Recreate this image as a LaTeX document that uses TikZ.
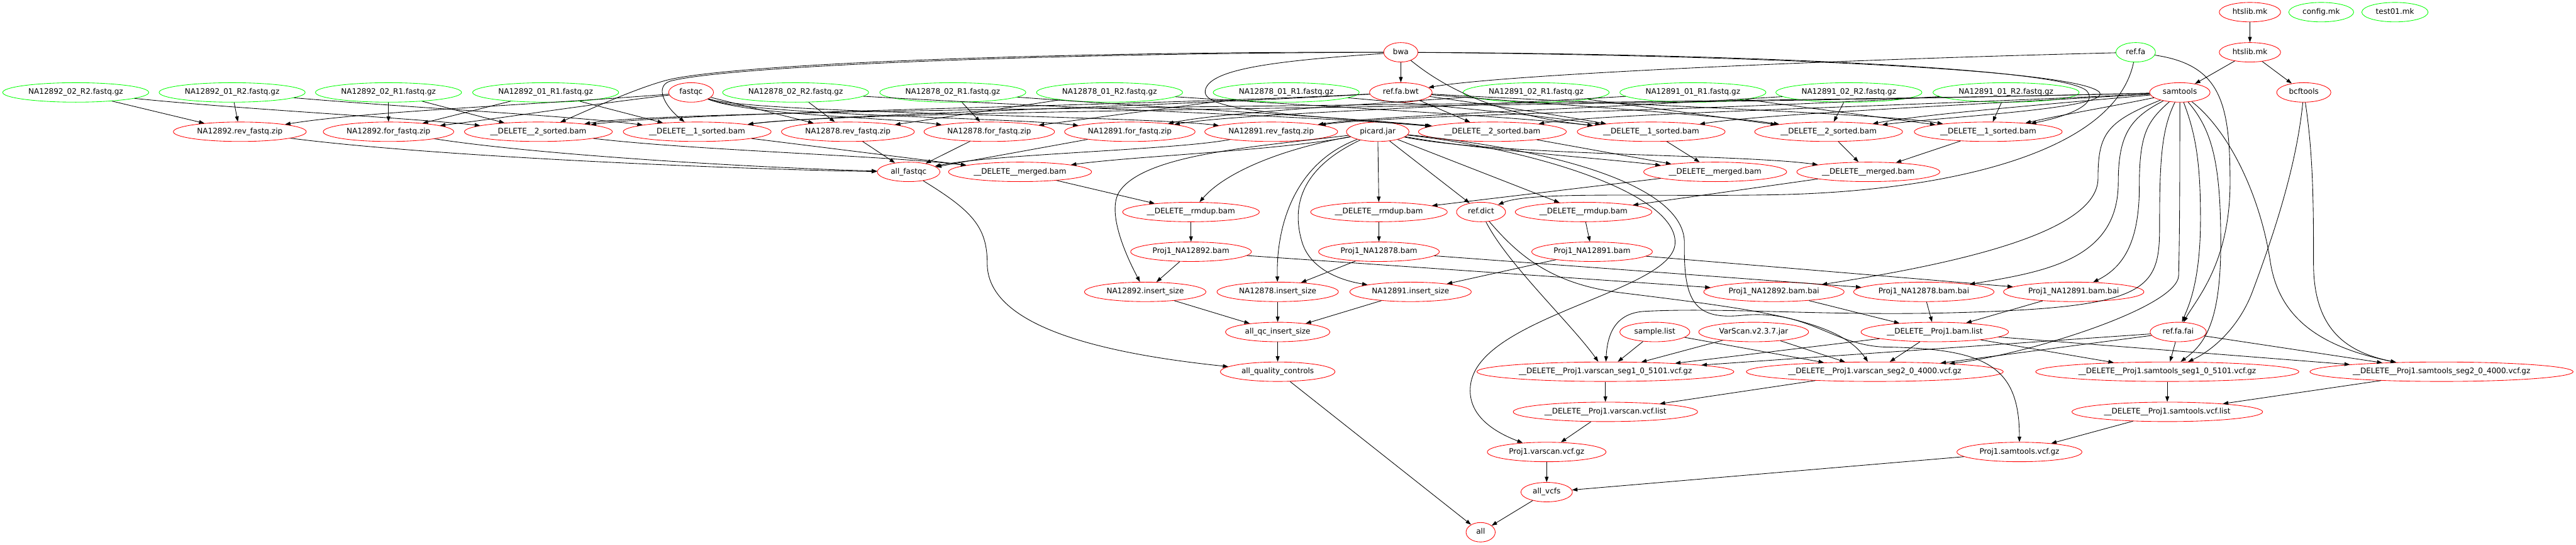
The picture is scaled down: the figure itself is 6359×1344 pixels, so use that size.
\documentclass[tikz,border=0pt]{standalone}
\usepackage{fontspec}
\setmainfont{DejaVu Sans}
\usetikzlibrary{shapes.geometric,arrows.meta}
\begin{document}
\begin{tikzpicture}[x=1pt,y=-1pt,
  nd/.style={ellipse, draw, line width=1.33pt, inner xsep=10.56pt, inner ysep=5.28pt,
    minimum width=72pt, minimum height=48pt, text height=13.6pt, text depth=4.4pt,
    font=\fontsize{18.67pt}{22pt}\selectfont},
  nr/.style={nd, draw=red},
  ng/.style={nd, draw=green},
  e/.style={draw=black, line width=1.33pt, -{Triangle[length=13.3pt,width=9.3pt]}}]
\useasboundingbox (0,0) rectangle (6359,1344);
% row 0
\node[nr] (htA) at (5554,30) {htslib.mk};
\node[ng] (config) at (5730,30) {config.mk};
\node[ng] (test) at (5912,30) {test01.mk};
% row 1
\node[nr] (bwa) at (3458,129) {bwa};
\node[ng] (reffa) at (5272,129) {ref.fa};
\node[nr] (htB) at (5554,129) {htslib.mk};
% row 2
\node[ng] (q92a) at (187,228) {NA12892\_02\_R2.fastq.gz};
\node[ng] (q92b) at (573,228) {NA12892\_01\_R2.fastq.gz};
\node[ng] (q92c) at (959,228) {NA12892\_02\_R1.fastq.gz};
\node[ng] (q92d) at (1347,228) {NA12892\_01\_R1.fastq.gz};
\node[nr] (fastqc) at (1706,228) {fastqc};
\node[ng] (q78a) at (1964,228) {NA12878\_02\_R2.fastq.gz};
\node[ng] (q78b) at (2352,228) {NA12878\_02\_R1.fastq.gz};
\node[ng] (q78c) at (2739,228) {NA12878\_01\_R2.fastq.gz};
\node[ng] (q78d) at (3175,228) {NA12878\_01\_R1.fastq.gz};
\node[nr] (bwt) at (3458,228) {ref.fa.bwt};
\node[ng] (q91a) at (3792,228) {NA12891\_02\_R1.fastq.gz};
\node[ng] (q91b) at (4179,228) {NA12891\_01\_R1.fastq.gz};
\node[ng] (q91c) at (4564,228) {NA12891\_02\_R2.fastq.gz};
\node[ng] (q91d) at (4952,228) {NA12891\_01\_R2.fastq.gz};
\node[nr] (samtools) at (5381,228) {samtools};
\node[nr] (bcftools) at (5687,228) {bcftools};
% row 3
\node[nr] (z92r) at (592,325) {NA12892.rev\_fastq.zip};
\node[nr] (z92f) at (959,325) {NA12892.for\_fastq.zip};
\node[nr] (s2a) at (1329,325) {\_\_DELETE\_\_2\_sorted.bam};
\node[nr] (s1a) at (1721,325) {\_\_DELETE\_\_1\_sorted.bam};
\node[nr] (z78r) at (2093,325) {NA12878.rev\_fastq.zip};
\node[nr] (z78f) at (2442,325) {NA12878.for\_fastq.zip};
\node[nr] (z91f) at (2789,325) {NA12891.for\_fastq.zip};
\node[nr] (z91r) at (3138,325) {NA12891.rev\_fastq.zip};
\node[nr] (picard) at (3401,325) {picard.jar};
\node[nr] (s2b) at (3684,325) {\_\_DELETE\_\_2\_sorted.bam};
\node[nr] (s1b) at (4076,325) {\_\_DELETE\_\_1\_sorted.bam};
\node[nr] (s2c) at (4514,325) {\_\_DELETE\_\_2\_sorted.bam};
\node[nr] (s1c) at (4908,325) {\_\_DELETE\_\_1\_sorted.bam};
% row 4
\node[nr] (allfq) at (2243,424) {all\_fastqc};
\node[nr] (ma) at (2518,424) {\_\_DELETE\_\_merged.bam};
\node[nr] (mb) at (4234,424) {\_\_DELETE\_\_merged.bam};
\node[nr] (mc) at (4612,424) {\_\_DELETE\_\_merged.bam};
% row 5
\node[nr] (rda) at (2940,523) {\_\_DELETE\_\_rmdup.bam};
\node[nr] (rdb) at (3404,523) {\_\_DELETE\_\_rmdup.bam};
\node[nr] (dict) at (3656,523) {ref.dict};
\node[nr] (rdc) at (3909,523) {\_\_DELETE\_\_rmdup.bam};
% row 6
\node[nr] (b92) at (2940,621) {Proj1\_NA12892.bam};
\node[nr] (b78) at (3404,621) {Proj1\_NA12878.bam};
\node[nr] (b91) at (3930,621) {Proj1\_NA12891.bam};
% row 7
\node[nr] (is92) at (2827,720) {NA12892.insert\_size};
\node[nr] (is78) at (3154,720) {NA12878.insert\_size};
\node[nr] (is91) at (3482,720) {NA12891.insert\_size};
\node[nr] (bai92) at (4379,720) {Proj1\_NA12892.bam.bai};
\node[nr] (bai78) at (4749,720) {Proj1\_NA12878.bam.bai};
\node[nr] (bai91) at (5119,720) {Proj1\_NA12891.bam.bai};
% row 8
\node[nr] (allqcis) at (3154,819) {all\_qc\_insert\_size};
\node[nr] (slist) at (4085,819) {sample.list};
\node[nr] (vjar) at (4329,819) {VarScan.v2.3.7.jar};
\node[nr] (blist) at (4776,819) {\_\_DELETE\_\_Proj1.bam.list};
\node[nr] (fai) at (5377,819) {ref.fa.fai};
% row 9
\node[nr] (allqc) at (3154,917) {all\_quality\_controls};
\node[nr] (vs1) at (3963,917) {\_\_DELETE\_\_Proj1.varscan\_seg1\_0\_5101.vcf.gz};
\node[nr] (vs2) at (4628,917) {\_\_DELETE\_\_Proj1.varscan\_seg2\_0\_4000.vcf.gz};
\node[nr] (st1) at (5350,917) {\_\_DELETE\_\_Proj1.samtools\_seg1\_0\_5101.vcf.gz};
\node[nr] (st2) at (6027,917) {\_\_DELETE\_\_Proj1.samtools\_seg2\_0\_4000.vcf.gz};
% rows 10-13
\node[nr] (vsl) at (3963,1016) {\_\_DELETE\_\_Proj1.varscan.vcf.list};
\node[nr] (stl) at (5350,1016) {\_\_DELETE\_\_Proj1.samtools.vcf.list};
\node[nr] (vsgz) at (3818,1115) {Proj1.varscan.vcf.gz};
\node[nr] (stgz) at (4985,1115) {Proj1.samtools.vcf.gz};
\node[nr] (allvcfs) at (3818,1214) {all\_vcfs};
\node[nr] (all) at (3655,1313) {all};

% fastq -> zip / sorted
\draw[e] (q92a) -- (z92r);
\draw[e] (q92a) .. controls (600,270) and (1000,290) .. (s2a);
\draw[e] (q92b) -- (z92r);
\draw[e] (q92b) .. controls (1000,265) and (1400,285) .. (s1a);
\draw[e] (q92c) -- (z92f);
\draw[e] (q92c) -- (s2a);
\draw[e] (q92d) -- (z92f);
\draw[e] (q92d) -- (s1a);
\draw[e] (q78a) -- (z78r);
\draw[e] (q78a) .. controls (2700,270) and (3300,290) .. (s2b);
\draw[e] (q78b) -- (z78f);
\draw[e] (q78b) .. controls (2900,268) and (3300,288) .. (s2b);
\draw[e] (q78c) -- (z78r);
\draw[e] (q78c) .. controls (3300,265) and (3700,285) .. (s1b);
\draw[e] (q78d) -- (z78f);
\draw[e] (q78d) .. controls (3600,265) and (3800,285) .. (s1b);
\draw[e] (q91a) .. controls (3300,262) and (3000,280) .. (z91f);
\draw[e] (q91a) -- (s2c);
\draw[e] (q91b) .. controls (3500,268) and (3050,282) .. (z91f);
\draw[e] (q91b) -- (s1c);
\draw[e] (q91c) -- (s2c);
\draw[e] (q91c) .. controls (3900,270) and (3400,285) .. (z91r);
\draw[e] (q91d) -- (s1c);
\draw[e] (q91d) .. controls (4200,275) and (3450,282) .. (z91r);
% fastqc
\draw[e] (fastqc) .. controls (1300,260) and (900,275) .. (z92r);
\draw[e] (fastqc) .. controls (1400,265) and (1250,290) .. (z92f);
\draw[e] (fastqc) -- (z78r);
\draw[e] (fastqc) .. controls (1850,285) and (2200,290) .. (z78f);
\draw[e] (fastqc) .. controls (1850,285) and (2500,290) .. (z91f);
\draw[e] (fastqc) .. controls (1850,280) and (2800,285) .. (z91r);
% bwa
\draw[e] (bwa) -- (bwt);
\draw[e] (bwa) .. controls (2600,127) and (1800,158) .. (1645,198) .. controls (1570,218) and (1460,268) .. (s2a);
\draw[e] (bwa) .. controls (2600,131) and (1800,162) .. (1655,200) .. controls (1615,212) and (1640,262) .. (s1a);
\draw[e] (bwa) .. controls (3150,150) and (2980,170) .. (2975,225) .. controls (2970,275) and (3200,282) .. (s2b);
\draw[e] (bwa) .. controls (3570,220) and (3700,285) .. (s1b);
\draw[e] (bwa) .. controls (4300,133) and (5100,168) .. (5152,225) .. controls (5180,258) and (5100,288) .. (s1c);
\draw[e] (bwa) .. controls (4300,136) and (5130,170) .. (5183,228) .. controls (5210,268) and (4800,288) .. (s2c);
% ref.fa.bwt
\draw[e] (bwt) .. controls (2800,262) and (1700,275) .. (s2a);
\draw[e] (bwt) .. controls (2800,265) and (2000,285) .. (s1a);
\draw[e] (bwt) -- (s2b);
\draw[e] (bwt) .. controls (3700,262) and (3850,285) .. (s1b);
\draw[e] (bwt) .. controls (3900,262) and (4250,285) .. (s2c);
\draw[e] (bwt) .. controls (4000,258) and (4650,280) .. (s1c);
% samtools -> sorted
\draw[e] (samtools) .. controls (5200,265) and (5080,285) .. (s1c);
\draw[e] (samtools) .. controls (5000,262) and (4750,282) .. (s2c);
\draw[e] (samtools) .. controls (4800,262) and (4350,282) .. (s1b);
\draw[e] (samtools) .. controls (4700,262) and (3950,280) .. (s2b);
\draw[e] (samtools) .. controls (4000,262) and (2100,270) .. (s1a);
\draw[e] (samtools) .. controls (4000,262) and (1700,262) .. (s2a);
% ref.fa
\draw[e] (reffa) .. controls (4500,148) and (3700,185) .. (bwt);
\draw[e] (reffa) .. controls (5220,380) and (4800,470) .. (4400,480) .. controls (4100,487) and (3780,470) .. (dict);
\draw[e] (reffa) .. controls (5480,160) and (5505,250) .. (5505,450) .. controls (5505,650) and (5420,740) .. (fai);
% picard
\draw[e] (picard) .. controls (3150,372) and (2800,385) .. (ma);
\draw[e] (picard) .. controls (3150,370) and (3020,430) .. (rda);
\draw[e] (picard) .. controls (3100,362) and (2830,380) .. (2765,470) .. controls (2726,524) and (2790,650) .. (is92);
\draw[e] (picard) .. controls (3200,400) and (3150,550) .. (is78);
\draw[e] (picard) .. controls (3200,420) and (3190,520) .. (3215,600) .. controls (3235,660) and (3300,690) .. (is91);
\draw[e] (picard) -- (rdb);
\draw[e] (picard) -- (dict);
\draw[e] (picard) -- (rdc);
\draw[e] (picard) .. controls (3650,370) and (3950,390) .. (mb);
\draw[e] (picard) .. controls (3700,385) and (4300,380) .. (mc);
\draw[e] (picard) .. controls (3800,370) and (4140,480) .. (4135,600) .. controls (4130,720) and (3650,780) .. (3630,950) .. controls (3620,1030) and (3700,1070) .. (vsgz);
\draw[e] (picard) .. controls (3850,370) and (4160,460) .. (4158,600) .. controls (4156,740) and (4180,790) .. (4300,778) .. controls (4460,762) and (4520,850) .. (4650,856) .. controls (4900,860) and (4985,900) .. (stgz);
% sorted -> merged -> rmdup -> bam
\draw[e] (s2a) .. controls (1700,370) and (2200,385) .. (ma);
\draw[e] (s1a) -- (ma);
\draw[e] (s2b) -- (mb);
\draw[e] (s1b) -- (mb);
\draw[e] (s2c) -- (mc);
\draw[e] (s1c) -- (mc);
\draw[e] (ma) -- (rda);
\draw[e] (mb) -- (rdb);
\draw[e] (mc) -- (rdc);
\draw[e] (rda) -- (b92);
\draw[e] (rdb) -- (b78);
\draw[e] (rdc) -- (b91);
\draw[e] (b92) -- (is92);
\draw[e] (b92) -- (bai92);
\draw[e] (b78) -- (is78);
\draw[e] (b78) -- (bai78);
\draw[e] (b91) -- (is91);
\draw[e] (b91) -- (bai91);
% samtools -> others
\draw[e] (samtools) .. controls (5200,300) and (5179,330) .. (5179,440) .. controls (5179,560) and (4900,640) .. (bai92);
\draw[e] (samtools) .. controls (5260,290) and (5229,330) .. (5229,450) .. controls (5229,640) and (5050,670) .. (bai78);
\draw[e] (samtools) .. controls (5300,300) and (5281,330) .. (5281,460) .. controls (5281,600) and (5240,660) .. (bai91);
\draw[e] (samtools) .. controls (5335,320) and (5331,400) .. (5331,560) .. controls (5331,720) and (5300,760) .. (4800,772) .. controls (4500,779) and (4250,758) .. (4060,768) .. controls (3990,772) and (3968,820) .. (vs1);
\draw[e] (samtools) .. controls (5381,400) and (5381,560) .. (5378,680) .. controls (5375,760) and (4994,877) .. (vs2);
\draw[e] (samtools) .. controls (5420,330) and (5432,400) .. (5432,540) .. controls (5432,700) and (5400,760) .. (fai);
\draw[e] (samtools) .. controls (5460,320) and (5482,400) .. (5482,600) .. controls (5482,800) and (5440,850) .. (st1);
\draw[e] (samtools) .. controls (5500,320) and (5580,480) .. (5605,650) .. controls (5630,800) and (5750,860) .. (st2);
\draw[e] (bcftools) .. controls (5670,400) and (5620,560) .. (5560,720) .. controls (5530,800) and (5470,860) .. (st1);
\draw[e] (bcftools) .. controls (5710,380) and (5711,500) .. (5711,650) .. controls (5711,820) and (5800,870) .. (st2);
\draw[e] (htA) -- (htB);
\draw[e] (htB) -- (samtools);
\draw[e] (htB) -- (bcftools);
% zips -> all_fastqc
\draw[e] (z92r) .. controls (1100,390) and (1900,420) .. (allfq);
\draw[e] (z92f) .. controls (1350,385) and (1900,415) .. (allfq);
\draw[e] (z78r) -- (allfq);
\draw[e] (z78f) -- (allfq);
\draw[e] (z91f) -- (allfq);
\draw[e] (z91r) .. controls (2900,370) and (2450,380) .. (allfq);
% qc
\draw[e] (is92) -- (allqcis);
\draw[e] (is78) -- (allqcis);
\draw[e] (is91) -- (allqcis);
\draw[e] (allqcis) -- (allqc);
\draw[e] (allfq) .. controls (2400,520) and (2437,560) .. (2437,650) .. controls (2437,800) and (2700,870) .. (allqc);
\draw[e] (allqc) -- (all);
\draw[e] (allvcfs) -- (all);
% bai -> bam list
\draw[e] (bai92) -- (blist);
\draw[e] (bai78) -- (blist);
\draw[e] (bai91) -- (blist);
% segments
\draw[e] (blist) -- (vs1);
\draw[e] (blist) -- (vs2);
\draw[e] (blist) -- (st1);
\draw[e] (blist) -- (st2);
\draw[e] (fai) -- (vs1);
\draw[e] (fai) -- (vs2);
\draw[e] (fai) -- (st1);
\draw[e] (fai) -- (st2);
\draw[e] (slist) -- (vs1);
\draw[e] (slist) -- (vs2);
\draw[e] (vjar) -- (vs1);
\draw[e] (vjar) -- (vs2);
\draw[e] (dict) .. controls (3720,650) and (3880,800) .. (vs1);
\draw[e] (dict) .. controls (3740,620) and (3820,700) .. (4000,722) .. controls (4350,765) and (4540,790) .. (vs2);
\draw[e] (vs1) -- (vsl);
\draw[e] (vs2) -- (vsl);
\draw[e] (st1) -- (stl);
\draw[e] (st2) -- (stl);
\draw[e] (vsl) -- (vsgz);
\draw[e] (stl) -- (stgz);
\draw[e] (vsgz) -- (allvcfs);
\draw[e] (stgz) -- (allvcfs);
\end{tikzpicture}
\end{document}
